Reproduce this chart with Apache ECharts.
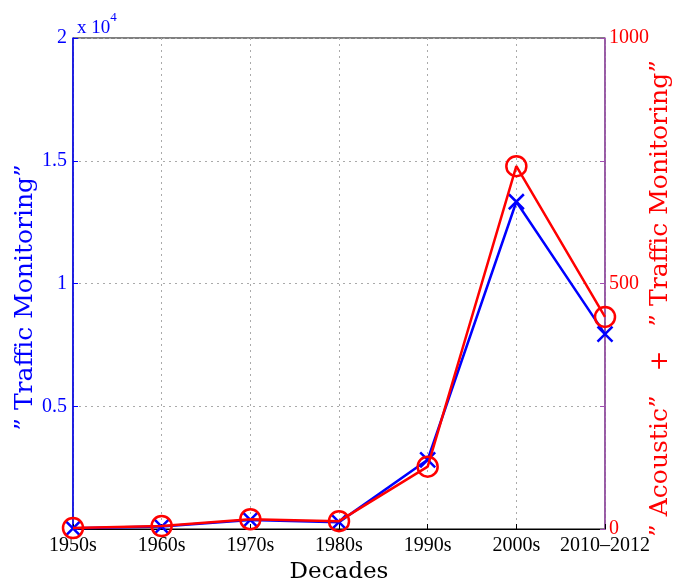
<!DOCTYPE html>
<html><head><meta charset="utf-8">
<script src="https://cdn.jsdelivr.net/npm/echarts@6/dist/echarts.min.js"></script>
<style>html,body{margin:0;padding:0;background:#fff}#c{width:678px;height:583px}</style>
</head><body><div id="c"></div>
<script>
var categories = ['1950s','1960s','1970s','1980s','1990s','2000s','2010\u20132012'];
var trafficMonitoring = [30, 100, 370, 280, 2820, 13330, 7940];
var acousticTraffic = [2, 6, 20, 16, 127, 739, 432];
var leftTicks = [0, 5000, 10000, 15000, 20000];
var rightTicks = [0, 250, 500, 750, 1000];

var FONT = '"Liberation Serif", "DejaVu Serif", serif';
var NFONT = '"DejaVu Serif", "Liberation Serif", serif';
var chart = echarts.init(document.getElementById('c'));
chart.setOption({
  animation: false,
  backgroundColor: '#fff',
  title: {
    text: '{a|x 10}{b|4}',
    left: 72, top: 6,
    textStyle: {
      fontWeight: 'normal',
      rich: {
        a: {fontFamily: FONT, fontSize: 19, fontWeight: 'normal', color: '#0000ff', verticalAlign: 'bottom', padding: [8,0,0,0]},
        b: {fontFamily: FONT, fontSize: 13, fontWeight: 'normal', color: '#0000ff', verticalAlign: 'top'}
      }
    }
  },
  grid: {left: 73, right: 73, top: 38, bottom: 54, containLabel: false, outerBoundsMode: 'none',
    show: true, borderColor: '#000', borderWidth: 1, backgroundColor: 'transparent'},
  xAxis: {
    type: 'category', data: categories, boundaryGap: false,
    name: 'Decades', nameLocation: 'middle', nameGap: 26,
    nameTextStyle: {fontFamily: NFONT, fontSize: 23, color: '#000'},
    axisLine: {lineStyle: {color: '#000', width: 1}},
    axisTick: {inside: true, length: 5, interval: 0, lineStyle: {color: '#000'}},
    axisLabel: {fontFamily: FONT, fontSize: 20, color: '#000', margin: 7, interval: 0, hideOverlap: false},
    splitLine: {show: true, interval: 0, lineStyle: {type: [2, 4], color: '#aaa', width: 1}}
  },
  yAxis: [{
    type: 'value', min: leftTicks[0], max: leftTicks[leftTicks.length-1], interval: 5000,
    position: 'left',
    name: '\u201d Traffic Monitoring\u201d', nameLocation: 'middle', nameGap: 35, nameRotate: 90,
    nameMoveOverlap: false,
    nameTextStyle: {fontFamily: NFONT, fontSize: 25, color: '#0000ff', padding: [0,0,0,-28]},
    axisLine: {show: true, lineStyle: {color: '#0000ff', width: 1.5}},
    axisTick: {show: true, inside: true, length: 5, lineStyle: {color: '#0000ff'}},
    axisLabel: {fontFamily: FONT, fontSize: 20, color: '#0000ff', margin: 6,
      formatter: function (v) { return v === 0 ? '' : String(v / 10000); }},
    splitLine: {show: true, lineStyle: {type: [2, 4], color: '#aaa', width: 1}}
  }, {
    type: 'value', min: rightTicks[0], max: rightTicks[rightTicks.length-1], interval: 250,
    position: 'right',
    name: '\u201d Acoustic\u201d   +   \u201d Traffic Monitoring\u201d', nameLocation: 'middle', nameGap: 43, nameRotate: 90,
    nameMoveOverlap: false,
    nameTextStyle: {fontFamily: NFONT, fontSize: 25, color: '#ff0000', padding: [0,0,0,-30]},
    axisLine: {show: true, lineStyle: {color: '#a050b0', width: 1.5}},
    axisTick: {show: true, inside: true, length: 5, lineStyle: {color: '#a050b0'}},
    axisLabel: {fontFamily: FONT, fontSize: 20, color: '#ff0000', margin: 4,
      formatter: function (v) { return (v % 500 === 0) ? String(v) : ''; }},
    splitLine: {show: false}
  }],
  series: [{
    type: 'line', name: 'Traffic Monitoring', yAxisIndex: 0, data: trafficMonitoring,
    lineStyle: {color: '#0000ff', width: 2.5},
    symbol: 'path://M0,0L10,10M10,0L0,10', symbolSize: 15, showAllSymbol: true,
    itemStyle: {color: 'none', borderColor: '#0000ff', borderWidth: 2.5},
    z: 2
  }, {
    type: 'line', name: 'Acoustic + Traffic Monitoring', yAxisIndex: 1, data: acousticTraffic,
    lineStyle: {color: '#ff0000', width: 2.5},
    symbol: 'circle', symbolSize: 20, showAllSymbol: true,
    itemStyle: {color: 'none', borderColor: '#ff0000', borderWidth: 2.5},
    z: 3
  }]
});
</script></body></html>
